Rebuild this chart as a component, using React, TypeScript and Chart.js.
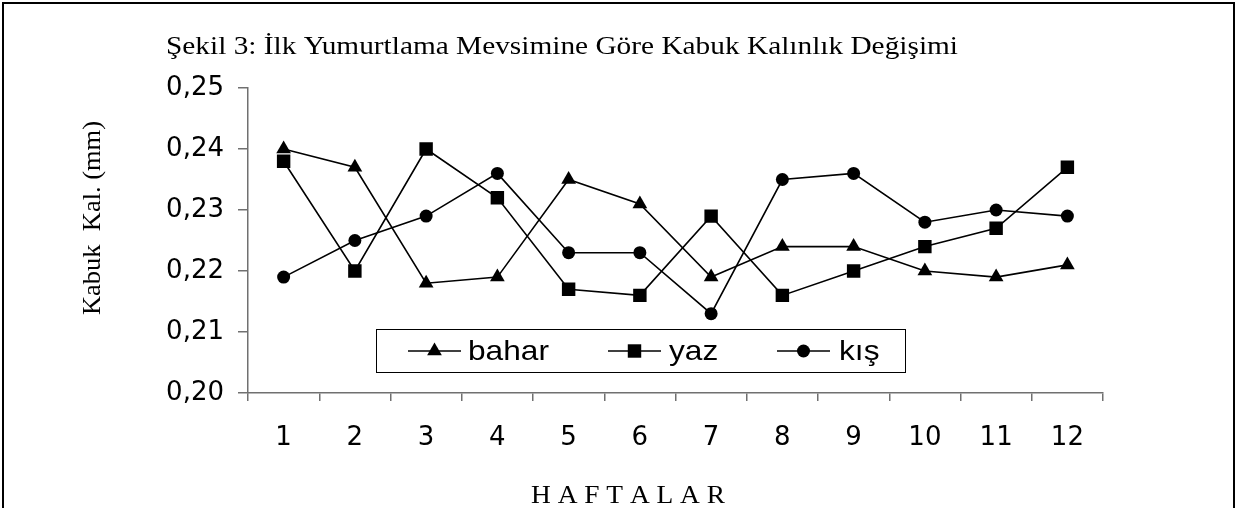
import React, { useEffect, useRef } from "react";
import { Chart, registerables } from "chart.js";

Chart.register(...registerables);

const weeks = ["1", "2", "3", "4", "5", "6", "7", "8", "9", "10", "11", "12"];
const bahar = [0.240, 0.237, 0.218, 0.219, 0.235, 0.231, 0.219, 0.224, 0.224, 0.220, 0.219, 0.221];
const yaz = [0.238, 0.220, 0.240, 0.232, 0.217, 0.216, 0.229, 0.216, 0.220, 0.224, 0.227, 0.237];
const kis = [0.219, 0.225, 0.229, 0.236, 0.223, 0.223, 0.213, 0.235, 0.236, 0.228, 0.230, 0.229];
const seriesNames = ["bahar", "yaz", "kış"];
const yMin = 0.2;
const yMax = 0.25;
const yStep = 0.01;
const titleText = "Şekil 3: İlk Yumurtlama Mevsimine Göre Kabuk Kalınlık Değişimi";
const yTitleText = "Kabuk  Kal. (mm)";
const xTitleText = "H A F T A L A R";

function fitText(ctx: CanvasRenderingContext2D, text: string, x: number, y: number, font: string, width: number, align: "left" | "center") {
  ctx.save();
  ctx.font = font;
  const w = ctx.measureText(text).width;
  const sx = width / w;
  ctx.translate(x, y);
  ctx.scale(sx, 1);
  ctx.textAlign = "left";
  ctx.fillText(text, align === "center" ? -w / 2 : 0, 0);
  ctx.restore();
}

function drawMarker(ctx: CanvasRenderingContext2D, style: string, x: number, y: number, r: number) {
  ctx.beginPath();
  if (style === "triangle") {
    const half = r * Math.sqrt(3) / 2;
    ctx.moveTo(x, y - r);
    ctx.lineTo(x + half, y + r / 2);
    ctx.lineTo(x - half, y + r / 2);
    ctx.closePath();
  } else if (style === "rect") {
    const s = r * Math.SQRT1_2;
    ctx.rect(x - s, y - s, 2 * s, 2 * s);
  } else {
    ctx.arc(x, y, r, 0, Math.PI * 2);
  }
  ctx.fill();
}

const decorPlugin = {
  id: "decor",
  afterDraw(chart: any) {
    const ctx: CanvasRenderingContext2D = chart.ctx;
    ctx.save();
    ctx.strokeStyle = "#000";
    ctx.lineWidth = 2;
    ctx.strokeRect(3, 3, 1231, 600);
    ctx.fillStyle = "#000";
    ctx.textBaseline = "alphabetic";
    fitText(ctx, titleText, 166, 54, "26px 'Liberation Serif'", 792, "left");
    fitText(ctx, xTitleText, 628, 503, "26px 'Liberation Serif'", 194, "center");
    ctx.save();
    ctx.translate(93, 218);
    ctx.rotate(-Math.PI / 2);
    ctx.textBaseline = "middle";
    fitText(ctx, yTitleText, 0, 0, "26px 'Liberation Serif'", 194, "center");
    ctx.restore();
    ctx.strokeStyle = "#000";
    ctx.lineWidth = 1;
    ctx.strokeRect(376.5, 329.5, 529, 43);
    const lineStarts = [408, 608, 777];
    const textStarts = [468, 669, 839];
    const cy = 351;
    ctx.font = "28px 'Liberation Sans'";
    const sx = 81 / ctx.measureText("bahar").width;
    chart.data.datasets.forEach((ds: any, i: number) => {
      const x0 = lineStarts[i];
      ctx.strokeStyle = "#000";
      ctx.lineWidth = 1.5;
      ctx.beginPath();
      ctx.moveTo(x0, cy);
      ctx.lineTo(x0 + 53, cy);
      ctx.stroke();
      ctx.fillStyle = "#000";
      drawMarker(ctx, ds.pointStyle, x0 + 26.5, cy, ds.pointRadius);
      ctx.save();
      ctx.translate(textStarts[i], cy);
      ctx.scale(sx, 1);
      ctx.font = "28px 'Liberation Sans'";
      ctx.textBaseline = "middle";
      ctx.textAlign = "left";
      ctx.fillText(ds.label, 0, 1);
      ctx.restore();
    });
    ctx.restore();
  },
};

export default function App() {
  const ref = useRef<HTMLCanvasElement | null>(null);
  useEffect(() => {
    if (!ref.current) return;
    const mk = (label: string, data: number[], style: string, r: number) => ({
      label,
      data,
      borderColor: "#000",
      borderWidth: 1.6,
      pointStyle: style,
      pointRadius: r,
      pointBackgroundColor: "#000",
      pointBorderColor: "#000",
      pointBorderWidth: 0,
      fill: false,
      tension: 0,
    });
    const chart = new Chart(ref.current, {
      type: "line",
      data: {
        labels: weeks,
        datasets: [
          mk(seriesNames[0], bahar, "triangle", 8.5),
          mk(seriesNames[1], yaz, "rect", 9.5),
          mk(seriesNames[2], kis, "circle", 6.5),
        ],
      },
      options: {
        responsive: false,
        animation: false,
        layout: { padding: { left: 0, top: 88, right: 136, bottom: 0 } },
        plugins: {
          legend: { display: false },
          title: { display: false },
          tooltip: { enabled: false },
        },
        scales: {
          x: {
            type: "category",
            offset: true,
            grid: { offset: true, drawOnChartArea: false, drawTicks: true, tickLength: 8, color: "#707070", lineWidth: 1.5 },
            border: { color: "#707070", width: 1.5 },
            ticks: { color: "#000", font: { family: "'DejaVu Sans'", size: 26 }, padding: 22, maxRotation: 0, autoSkip: false },
            afterFit: (s: any) => { s.height = 508 - 393; },
          },
          y: {
            min: yMin,
            max: yMax,
            grid: { drawOnChartArea: false, drawTicks: true, tickLength: 10, color: "#707070", lineWidth: 1.5 },
            border: { color: "#707070", width: 1.5 },
            ticks: {
              stepSize: yStep,
              color: "#000",
              font: { family: "'DejaVu Sans'", size: 26 },
              padding: 14,
              callback: (v: any) => Number(v).toFixed(2).replace(".", ","),
            },
            afterFit: (s: any) => { s.width = 248; },
          },
        },
      },
      plugins: [decorPlugin],
    } as any);
    return () => chart.destroy();
  }, []);
  return (
    <div style={{ position: "fixed", left: 0, top: 0, width: 1239, height: 508, background: "#fff" }}>
      <canvas ref={ref} width={1239} height={508} />
    </div>
  );
}
